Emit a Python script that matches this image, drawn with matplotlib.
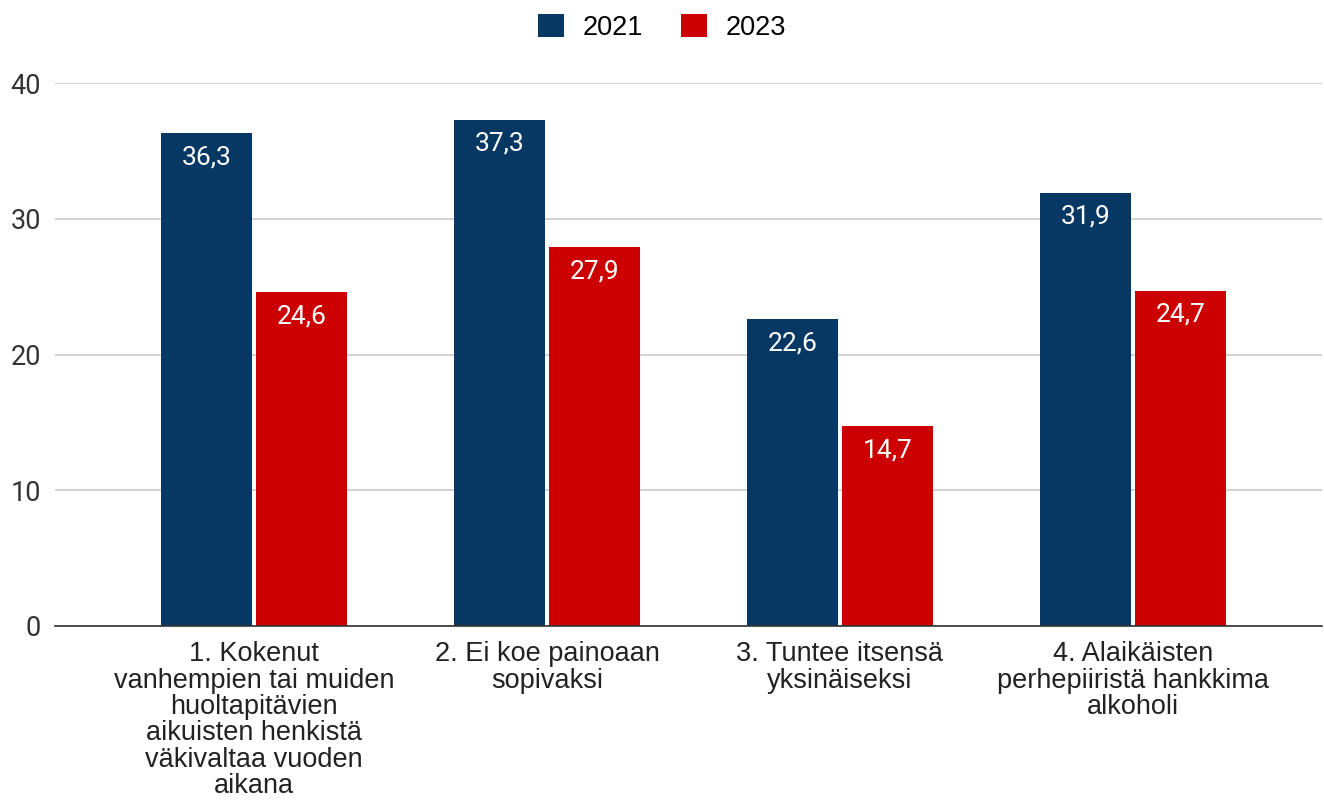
import numpy as np
import matplotlib.pyplot as plt

# tiedot
kategoriat = [
    "1. Kokenut\nvanhempien tai muiden\nhuoltapitävien\naikuisten henkistä\nväkivaltaa vuoden\naikana",
    "2. Ei koe painoaan\nsopivaksi",
    "3. Tuntee itsensä\nyksinäiseksi",
    "4. Alaikäisten\nperhepiiristä hankkima\nalkoholi",
]
vuodet = ["2021", "2023"]
arvot_2021 = [36.3, 37.3, 22.6, 31.9]
arvot_2023 = [24.6, 27.9, 14.7, 24.7]
varit = ["#073763", "#cc0000"]

plt.rcParams['font.family'] = ['Liberation Sans', 'DejaVu Sans']

fig = plt.figure(figsize=(13.24, 8), dpi=100)
ax = fig.add_axes([0.0415, 0.2175, 0.957, 0.67875])

x = np.arange(len(kategoriat))
leveys = 0.31
siirto = 0.162

for arvot, vuosi, vari, s in zip([arvot_2021, arvot_2023], vuodet, varit, [-siirto, siirto]):
    palkit = ax.bar(x + s, arvot, leveys, color=vari, label=vuosi, zorder=3)
    for p, v in zip(palkit, arvot):
        ax.annotate(f"{v:.1f}".replace(".", ","),
                    (p.get_x() + p.get_width() / 2, v),
                    xytext=(0, -24), textcoords="offset pixels",
                    ha="center", va="center", color="white", fontsize=19,
                    family=['Roboto', 'DejaVu Sans'], zorder=4)

ax.set_ylim(0, 40)
ax.set_xlim(-0.679, 3.645)
ax.set_yticks([0, 10, 20, 30, 40])
ax.set_xticks(x)
ax.set_xticklabels(kategoriat, fontsize=19.5, color="#222222", linespacing=1.02)
ax.tick_params(axis="y", labelsize=19.5, labelcolor="#333333", length=0, pad=10)
ax.tick_params(axis="x", length=0, pad=11)
for lab in ax.get_yticklabels():
    lab.set_family(['Roboto', 'DejaVu Sans'])

ax.grid(axis="y", color="#cccccc", linewidth=1.2, zorder=0)
for s in ["top", "right", "left"]:
    ax.spines[s].set_visible(False)
ax.spines["bottom"].set_color("#333333")
ax.spines["bottom"].set_linewidth(1.2)
ax.spines["bottom"].set_zorder(5)

fig.legend(loc="upper center", bbox_to_anchor=(0.5, 1.013), ncol=2, frameon=False,
           fontsize=19.5, handlelength=0.95, handleheight=0.95, columnspacing=1.4,
           handletextpad=0.7)

fig.savefig("out.png", dpi=100)
